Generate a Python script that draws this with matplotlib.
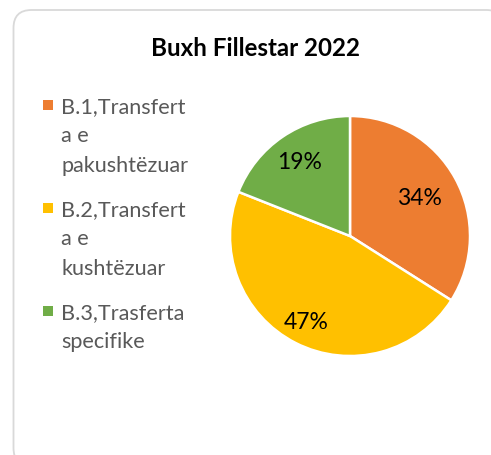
import numpy as np
import matplotlib.pyplot as plt
from matplotlib.patches import FancyBboxPatch, Rectangle

plt.rcParams['font.family'] = ['Lato', 'DejaVu Sans']

title = "Buxh Fillestar 2022"
labels = ["B.1,Transfert\na e\npakushtëzuar",
          "B.2,Transfert\na e\nkushtëzuar",
          "B.3,Trasferta\nspecifike"]
values = [34, 47, 19]
colors = ["#ED7D31", "#FFC000", "#70AD47"]

W, H = 491, 456
fig = plt.figure(figsize=(W / 100, H / 100), dpi=100)

# background axes in pixel coords (y down)
bg = fig.add_axes([0, 0, 1, 1])
bg.set_xlim(0, W)
bg.set_ylim(H, 0)
bg.axis("off")

bg.add_patch(FancyBboxPatch((13.5, 11), W, H, boxstyle="round,pad=0,rounding_size=18",
                            fc="white", ec="#D9D9D9", lw=1.3, clip_on=False))

bg.text(256, 56, title, ha="center", va="baseline", fontsize=17.4,
        fontweight="bold", color="black")

# legend drawn by hand so the marker sits on the first line
line_h = 29.5
gap = 44
y = 113
for lab, c in zip(labels, colors):
    lines = lab.split("\n")
    bg.add_patch(Rectangle((43.5, y - 12), 10, 10, fc=c, ec="none"))
    for ln in lines:
        bg.text(61.5, y, ln, ha="left", va="baseline", fontsize=15.6, color="#595959")
        y += line_h
    y += gap - line_h

# pie
cx, cy, r = 350, 237, 120
ax = fig.add_axes([(cx - r) / W, 1 - (cy + r) / H, 2 * r / W, 2 * r / H])
wedges, _ = ax.pie(values, colors=colors, startangle=90, counterclock=False,
                   wedgeprops=dict(edgecolor="white", linewidth=1.8))
ax.set_xlim(-1, 1)
ax.set_ylim(-1, 1)
ax.set_aspect("equal")
for w in wedges:
    w.set_clip_on(False)

label_dist = [0.66, 0.8, 0.75]
for w, v, d in zip(wedges, values, label_dist):
    mid = np.deg2rad((w.theta1 + w.theta2) / 2)
    ax.text(d * np.cos(mid), d * np.sin(mid), f"{v}%", ha="center", va="center",
            fontsize=16.5, color="black")

fig.savefig("out.png", dpi=100)
